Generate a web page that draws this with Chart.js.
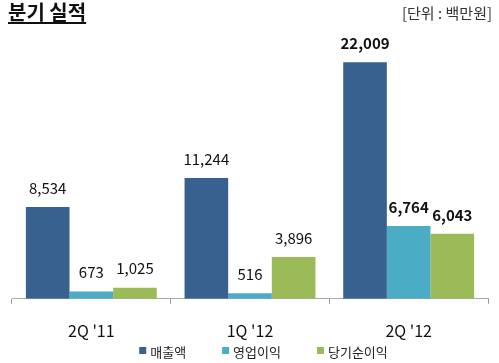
<!DOCTYPE html>
<html><head><meta charset="utf-8">
<script src="https://cdn.jsdelivr.net/npm/chart.js@4"></script>
<style>html,body{margin:0;padding:0;background:#fff}#wrap{width:499px;height:363px;position:relative}</style>
</head><body><div id="wrap"><canvas id="c" width="499" height="363"></canvas></div>
<script>
const categories = ["2Q '11", "1Q '12", "2Q '12"];
const seriesNames = ["매출액", "영업이익", "당기순이익"];
const revenue = [8534, 11244, 22009];
const operatingProfit = [673, 516, 6764];
const netProfit = [1025, 3896, 6043];
const titleText = "분기 실적";
const unitText = "[단위 : 백만원]";
const FONT = "'Noto Sans CJK KR', 'Noto Sans', sans-serif";
const colors = ["#38618f", "#4bacc6", "#9bbb59"];

const labelPlugin = {
  id: 'labels',
  afterDatasetsDraw(chart) {
    const ctx = chart.ctx;
    ctx.save();
    ctx.fillStyle = '#111';
    ctx.textAlign = 'center';
    ctx.textBaseline = 'middle';
    chart.data.datasets.forEach((ds, di) => {
      const meta = chart.getDatasetMeta(di);
      meta.data.forEach((bar, i) => {
        const bold = i === 2;
        ctx.font = (bold ? 'bold ' : '') + '15px ' + FONT;
        ctx.fillText(ds.data[i].toLocaleString('en-US'), bar.x, bar.y - 19);
      });
    });
    ctx.restore();
  },
  afterDraw(chart) {
    const ctx = chart.ctx;
    ctx.save();
    // title
    ctx.fillStyle = '#111';
    ctx.font = 'bold 20px ' + FONT;
    ctx.textAlign = 'left';
    ctx.textBaseline = 'middle';
    ctx.fillText(titleText, 8, 12);
    const w = ctx.measureText(titleText).width;
    ctx.fillRect(8, 22, w, 2);
    // unit
    ctx.fillStyle = '#333';
    ctx.font = '15px ' + FONT;
    ctx.textAlign = 'right';
    ctx.fillText(unitText, 492, 13);
    // legend
    ctx.font = '13px ' + FONT;
    ctx.textAlign = 'left';
    const box = 7, gapText = 4, gapItem = 36, cy = 352;
    const items = chart.data.datasets.map(ds => ({ label: ds.label, color: ds.backgroundColor, w: ctx.measureText(ds.label).width }));
    const total = items.reduce((s, it) => s + box + gapText + it.w, 0) + gapItem * (items.length - 1);
    let x = 263.5 - total / 2;
    items.forEach(it => {
      ctx.fillStyle = it.color;
      ctx.fillRect(x, cy - 5, box, box);
      ctx.fillStyle = '#222';
      ctx.fillText(it.label, x + box + gapText, cy);
      x += box + gapText + it.w + gapItem;
    });
    ctx.restore();
  }
};

new Chart(document.getElementById('c'), {
  type: 'bar',
  data: {
    labels: categories,
    datasets: [
      { label: seriesNames[0], data: revenue, backgroundColor: colors[0] },
      { label: seriesNames[1], data: operatingProfit, backgroundColor: colors[1] },
      { label: seriesNames[2], data: netProfit, backgroundColor: colors[2] }
    ]
  },
  options: {
    responsive: false,
    animation: false,
    layout: { padding: { top: 30, left: 12, right: 11, bottom: 4 } },
    datasets: { bar: { categoryPercentage: 0.825, barPercentage: 1 } },
    plugins: {
      legend: { display: false },
      tooltip: { enabled: false }
    },
    scales: {
      y: { display: false, min: 0, max: 25000 },
      x: {
        grid: { offset: true, drawOnChartArea: false, tickLength: 5, color: '#999' },
        border: { color: '#aaa' },
        ticks: { padding: 18, color: '#111', font: { family: FONT, size: 16 } }
      }
    }
  },
  plugins: [labelPlugin]
});
</script></body></html>
